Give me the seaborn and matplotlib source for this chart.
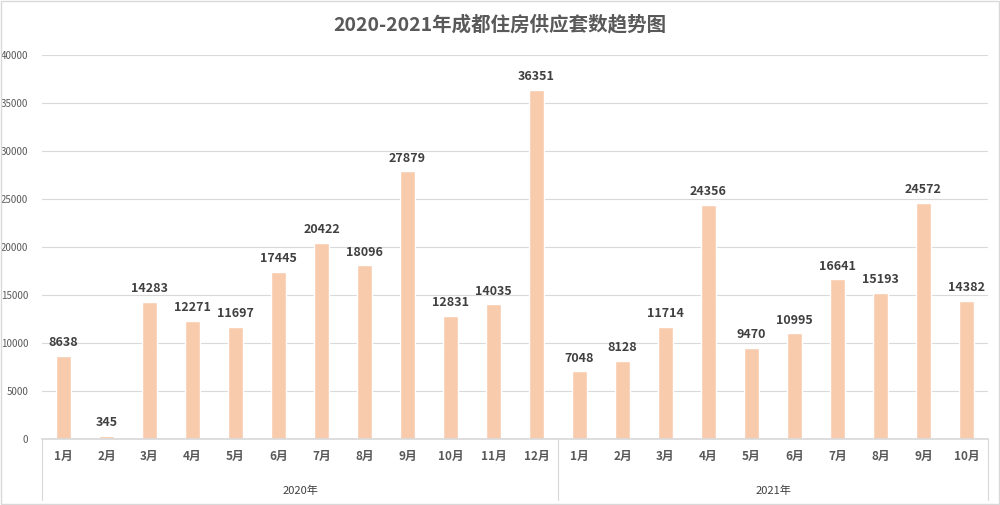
import matplotlib
matplotlib.use("Agg")
import matplotlib.pyplot as plt
import seaborn as sns
import pandas as pd
from matplotlib.patches import Rectangle
from matplotlib.lines import Line2D

months_2020 = ["1月", "2月", "3月", "4月", "5月", "6月", "7月", "8月", "9月", "10月", "11月", "12月"]
values_2020 = [8638, 345, 14283, 12271, 11697, 17445, 20422, 18096, 27879, 12831, 14035, 36351]
months_2021 = ["1月", "2月", "3月", "4月", "5月", "6月", "7月", "8月", "9月", "10月"]
values_2021 = [7048, 8128, 11714, 24356, 9470, 10995, 16641, 15193, 24572, 14382]
years = ["2020年", "2021年"]
title = "2020-2021年成都住房供应套数趋势图"

sns.set_theme(style="white")
plt.rcParams["font.family"] = ["Noto Sans CJK SC", "DejaVu Sans"]

keys = [f"2020-{m}" for m in months_2020] + [f"2021-{m}" for m in months_2021]
df = pd.DataFrame({"key": keys,
                   "month": months_2020 + months_2021,
                   "value": values_2020 + values_2021})

fig = plt.figure(figsize=(10, 5.05), dpi=100)
ax = fig.add_axes([0.042, 0.1307, 0.946, 0.7604])
sns.barplot(data=df, x="key", y="value", order=keys, color="#F8CBAD",
            saturation=1, width=0.35, ax=ax)

ax.set_ylim(0, 40000)
ax.set_xlim(-0.5, len(keys) - 0.5)
ax.set_yticks(range(0, 40001, 5000))
ax.set_yticklabels([str(v) for v in range(0, 40001, 5000)], fontsize=7, color="#595959")
ax.tick_params(axis="y", length=0, pad=10)
ax.yaxis.grid(True, color="#D9D9D9", linewidth=0.8)
ax.set_axisbelow(True)
for s in ["top", "right", "left"]:
    ax.spines[s].set_visible(False)
ax.spines["bottom"].set_color("#D9D9D9")
ax.set_xlabel("")
ax.set_ylabel("")

ax.set_xticks(range(len(keys)))
ax.set_xticklabels(df["month"], fontsize=8.5, color="#595959", fontweight="bold")
ax.tick_params(axis="x", length=0, pad=8)

for i, v in enumerate(df["value"]):
    ax.text(i, v + 700, str(v), ha="center", va="bottom", fontsize=9,
            fontweight="bold", color="#404040")

# category group separators
trans = ax.get_xaxis_transform()
n20 = len(months_2020)
for xpos in [-0.5, n20 - 0.5, len(keys) - 0.5]:
    ax.add_line(Line2D([xpos, xpos], [0, -0.16], transform=trans, color="#D9D9D9",
                       linewidth=0.8, clip_on=False))
ax.text((n20 - 1) / 2, -0.135, years[0], transform=trans, ha="center", va="center",
        fontsize=8, color="#404040")
ax.text(n20 + (len(months_2021) - 1) / 2, -0.135, years[1], transform=trans, ha="center",
        va="center", fontsize=8, color="#404040")

fig.text(0.5, 0.952, title, ha="center", va="center", fontsize=14,
         fontweight="bold", color="#595959")

fig.patches.append(Rectangle((0.001, 0.002), 0.998, 0.996, transform=fig.transFigure,
                             fill=False, edgecolor="#D9D9D9", linewidth=1))

fig.savefig("out.png", dpi=100)
